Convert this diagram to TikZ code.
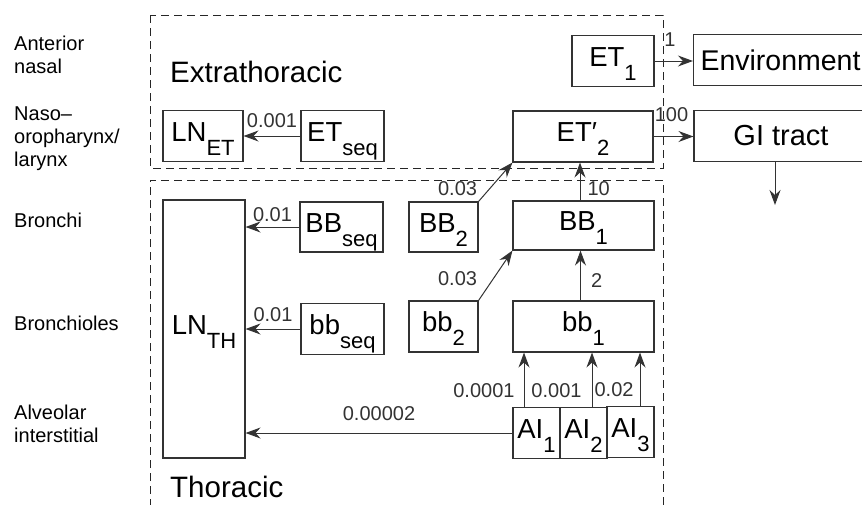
\documentclass[tikz,border=0pt]{standalone}
\usepackage{fontspec}
\setmainfont{Liberation Sans}
\usetikzlibrary{arrows.meta,positioning,calc}

\newcommand{\lowsub}[1]{\raisebox{-14pt}{\fontsize{22}{22}\selectfont #1}}

\begin{document}
\begin{tikzpicture}[x=1pt, y=-1pt, >={Stealth[length=15pt,width=11pt,inset=5pt]},
    comp/.style={draw=black!80, line width=1.1pt, inner sep=0pt,
                 minimum width=#1, minimum height=51pt,
                 text height=20pt, text depth=10pt,
                 font=\fontsize{27.5}{30}\selectfont},
    sink/.style={draw=black!80, line width=1.1pt, inner sep=0pt,
                 minimum width=174pt, minimum height=51pt,
                 font=\fontsize{29}{32}\selectfont},
    region/.style={draw=black!85, line width=1pt, dash pattern=on 8pt off 5pt},
    regname/.style={anchor=base west, inner sep=0pt, font=\fontsize{29.5}{32}\selectfont},
    site/.style={anchor=west, align=left, inner sep=0pt, font=\fontsize{20}{23}\selectfont},
    rate/.style={inner sep=1pt, font=\fontsize{20}{22}\selectfont},
    arr/.style={->, line width=1pt, black!80}]

  \useasboundingbox (0,0) rectangle (862,504);
  \clip (0,0) rectangle (862,504);

  %% Regions
  \draw[region] (150,15) rectangle (663,168);
  \draw[region] (150,520) |- (663,180) -- (663,520);
  \node[regname] (extra) at (170,82)  {Extrathoracic};
  \node[regname] (thor)  at (170,497) {Thoracic};

  %% Anatomical sites (left column)
  \node[site] (antnasal)    at (14,55)  {Anterior\\nasal};
  \node[site] (naso)        at (14,139) {Naso–\\oropharynx/\\larynx};
  \node[site] (bronchi)     at (14,220) {Bronchi};
  \node[site] (bronchioles) at (14,323) {Bronchioles};
  \node[site] (alveolar)    at (14,424) {Alveolar\\interstitial};

  %% Extrathoracic compartments
  \node[comp=80pt]  (LNET)  at (203,136)   {LN\lowsub{ET}};
  \node[comp=83pt]  (ETseq) at (342.5,136) {ET\lowsub{seq}};
  \node[comp=82pt]  (ET1)   at (613,61)    {ET\lowsub{1}};
  \node[comp=140pt] (ET2)   at (583,136.5) {ET′\lowsub{2}};

  %% Sinks
  \node[sink, font=\fontsize{28.5}{32}\selectfont] (env) at (780.5,60) {Environment};
  \node[sink] (gi)  at (781,136)  {GI tract};
  \coordinate (gout) at (775,205);

  %% Thoracic compartments
  \node[comp=82pt, minimum height=258pt] (LNTH) at (204,329) {LN\lowsub{TH}};
  \node[comp=83pt, minimum height=50pt]  (BBseq) at (341.5,227) {BB\lowsub{seq}};
  \node[comp=69pt, minimum height=50pt]  (BB2)   at (443.5,227) {BB\lowsub{2}};
  \node[comp=141pt, minimum height=49pt] (BB1)   at (583.5,225.5) {BB\lowsub{1}};
  \node[comp=83pt]  (bbseq) at (342.5,329)   {bb\lowsub{seq}};
  \node[comp=69pt]  (bb2)   at (443.5,326.5) {bb\lowsub{2}};
  \node[comp=141pt] (bb1)   at (583.5,326.5) {bb\lowsub{1}};
  \node[comp=47pt]  (AI1)   at (536.5,433)   {AI\lowsub{1}};
  \node[comp=47pt]  (AI2)   at (583.5,433)   {AI\lowsub{2}};
  \node[comp=47pt]  (AI3)   at (630.5,432)   {AI\lowsub{3}};

  %% Transfers out of ET
  \draw[arr] (ETseq.west) -- (LNET.east) node[rate, midway, above=7pt] {0.001};
  \draw[arr] (ET1.east) -- (ET1.east -| env.west) node[rate, pos=0.4, above=13pt] {1};
  \draw[arr] (ET2.east) -- (ET2.east -| gi.west) node[rate, pos=0.45, above=13pt] {100};
  \draw[arr] (gout |- gi.south) -- (gout);

  %% Transfers to lymph nodes
  \draw[arr] (BBseq.west) -- (BBseq.west -| LNTH.east) node[rate, midway, above=4pt] {0.01};
  \draw[arr] (bbseq.west) -- (bbseq.west -| LNTH.east) node[rate, midway, above=6pt] {0.01};
  \draw[arr] (AI1.west) -- (AI1.west -| LNTH.east) node[rate, midway, above=11pt] {0.00002};

  %% Clearance upwards
  \draw[arr] (BB2.north east) -- (ET2.south west)
    node[rate, pos=0, anchor=south east, yshift=4pt] {0.03};
  \draw[arr] (bb2.north east) -- (BB1.south west)
    node[rate, pos=0, anchor=south east, yshift=13pt] {0.03};
  \draw[arr] ([xshift=-3.5pt]BB1.north) -- ([xshift=-3.5pt]BB1.north |- ET2.south)
    node[rate, pos=0.3, right=6pt] {10};
  \draw[arr] ([xshift=-3pt]bb1.north) -- ([xshift=-3pt]bb1.north |- BB1.south)
    node[rate, pos=0.4, right=9pt] {2};
  \draw[arr] ([xshift=-12.5pt]AI1.north) -- ([xshift=-12.5pt]AI1.north |- bb1.south)
    node[rate, pos=0.3, left=8pt] {0.0001};
  \draw[arr] ([xshift=8.5pt]AI2.north) -- ([xshift=8.5pt]AI2.north |- bb1.south)
    node[rate, pos=0.3, left=9pt] {0.001};
  \draw[arr] ([xshift=9.5pt]AI3.north) -- ([xshift=9.5pt]AI3.north |- bb1.south)
    node[rate, pos=0.3, left=5pt] {0.02};
\end{tikzpicture}
\end{document}
